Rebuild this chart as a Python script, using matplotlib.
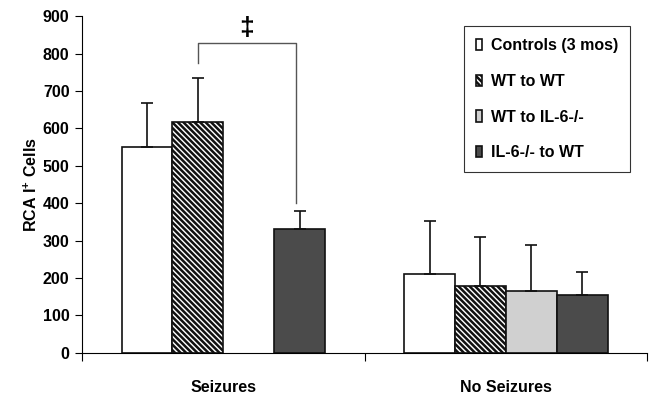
import matplotlib
matplotlib.use("Agg")
import matplotlib.pyplot as plt
import numpy as np

plt.rcParams['font.family'] = ['Liberation Sans', 'DejaVu Sans']
plt.rcParams['font.weight'] = 'bold'
plt.rcParams['mathtext.fontset'] = 'custom'
plt.rcParams['mathtext.rm'] = 'Liberation Sans:bold'
plt.rcParams['mathtext.bf'] = 'Liberation Sans:bold'
plt.rcParams['hatch.linewidth'] = 1.8

# donnees
groupes = ["Seizures", "No Seizures"]
series = ["Controls (3 mos)", "WT to WT", "WT to IL-6-/-", "IL-6-/- to WT"]
moyennes = [
    [549, 210],
    [618, 178],
    [np.nan, 164],
    [330, 155],
]
erreurs = [
    [118, 142],
    [117, 132],
    [np.nan, 124],
    [49, 60],
]
couleurs = ["white", "white", "#d0d0d0", "#4b4b4b"]
hachures = [None, "\\\\\\\\\\\\", None, None]

fig = plt.figure(figsize=(6.49, 3.96), dpi=100)
ax = fig.add_axes([0.1264, 0.1093, 0.8706, 0.85])

x = np.arange(len(groupes))
w = 0.18
for i in range(len(series)):
    pos = x + (i - 1.5) * w
    ax.bar(pos, moyennes[i], w, color=couleurs[i], edgecolor="#111111",
           linewidth=1.2, hatch=hachures[i], label=series[i], zorder=2)
    ax.errorbar(pos, moyennes[i], yerr=[np.zeros(2), erreurs[i]], fmt="none",
                ecolor="#111111", elinewidth=1.2, capsize=4.5, capthick=1.2, zorder=3)

# crochet de significativite
xg = x[0] - 0.5 * w
xd = x[0] + 1.5 * w - 0.012
ax.plot([xg, xg, xd, xd], [775, 827, 827, 399], color="#555555", lw=1.0, zorder=3)
ax.text((xg + xd) / 2, 836, "\u2021", ha="center", va="bottom", fontsize=19,
        fontweight="bold")

ax.set_xlim(-0.5, 1.5)
ax.set_ylim(0, 900)
ax.set_yticks(np.arange(0, 901, 100))
ax.set_xticks([-0.5, 0.5, 1.5])
ax.set_xticklabels([])
ax.set_xticks(x, minor=True)
ax.set_xticklabels(groupes, minor=True, fontsize=11.5, fontweight="bold")
ax.tick_params(axis="x", which="minor", length=0, pad=20)
ax.tick_params(axis="x", which="major", length=6, direction="out")
ax.tick_params(axis="y", length=5, direction="out", labelsize=11.5, pad=4)
for lab in ax.get_yticklabels():
    lab.set_fontweight("bold")
for s in ["top", "right"]:
    ax.spines[s].set_visible(False)
ax.set_ylabel("RCA I$^{+}$ Cells", fontsize=11.5, fontweight="bold", labelpad=2)

leg = ax.legend(loc="upper right", bbox_to_anchor=(0.9707, 0.934),
                bbox_transform=fig.transFigure, frameon=True, fancybox=False,
                edgecolor="black", fontsize=11.5, handlelength=0.4,
                handleheight=0.7, handletextpad=0.55, labelspacing=1.3,
                borderpad=0.75, borderaxespad=0)
leg.get_frame().set_linewidth(0.8)
for t in leg.get_texts():
    t.set_fontweight("bold")

fig.savefig("out.png", dpi=100)
